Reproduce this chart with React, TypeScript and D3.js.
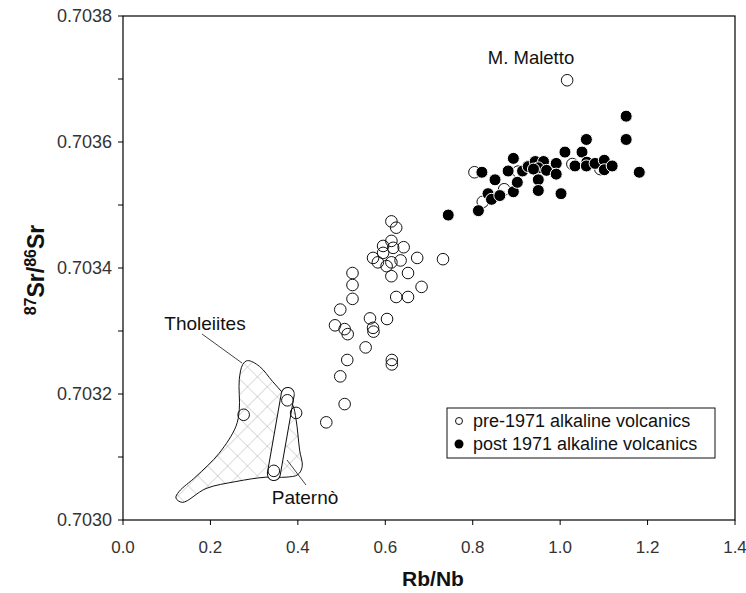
import React from "react";
import * as d3 from "d3";

// pre-1971 alkaline volcanics (open circles)
const preX = [0.614, 0.625, 0.614, 0.595, 0.618, 0.642, 0.595, 0.572, 0.583, 0.603, 0.614, 0.635, 0.673, 0.732, 0.614, 0.652, 0.683, 0.625, 0.652, 0.525, 0.525, 0.525, 0.497, 0.565, 0.604, 0.485, 0.507, 0.514, 0.572, 0.573, 0.555, 0.513, 0.615, 0.615, 0.497, 0.507, 0.465, 0.396, 0.376, 0.345, 0.276, 1.016, 0.823, 0.872, 0.804, 0.904, 0.927, 0.945, 1.028, 1.092];
const preY = [0.703474, 0.703464, 0.703443, 0.703435, 0.703432, 0.703433, 0.703424, 0.703416, 0.703409, 0.703403, 0.703409, 0.703412, 0.703416, 0.703414, 0.703387, 0.703392, 0.70337, 0.703354, 0.703354, 0.703392, 0.703373, 0.703351, 0.703334, 0.70332, 0.703319, 0.703309, 0.703303, 0.703295, 0.703305, 0.703299, 0.703274, 0.703254, 0.703254, 0.703247, 0.703228, 0.703184, 0.703155, 0.70317, 0.70319, 0.703078, 0.703167, 0.703698, 0.703505, 0.703525, 0.703552, 0.703553, 0.703561, 0.703561, 0.703565, 0.703557];

// post 1971 alkaline volcanics (filled circles)
const postX = [0.744, 0.813, 0.835, 0.843, 0.862, 0.893, 0.902, 0.851, 0.821, 0.893, 0.881, 0.914, 0.927, 0.943, 0.962, 0.95, 0.939, 0.969, 0.991, 0.991, 0.95, 0.95, 1.002, 1.011, 1.05, 1.06, 1.034, 1.061, 1.06, 1.08, 1.101, 1.101, 1.119, 1.151, 1.151, 1.181];
const postY = [0.703484, 0.703491, 0.703518, 0.703509, 0.703515, 0.703521, 0.703536, 0.70354, 0.703552, 0.703574, 0.703554, 0.703554, 0.703561, 0.703569, 0.703569, 0.703559, 0.703557, 0.703555, 0.703566, 0.703549, 0.70354, 0.703523, 0.703518, 0.703584, 0.703584, 0.703604, 0.703562, 0.703568, 0.703562, 0.703566, 0.703571, 0.703556, 0.703562, 0.703641, 0.703604, 0.703552];

// Tholeiites field outline
const tholX = [0.285, 0.312, 0.342, 0.365, 0.388, 0.396, 0.404, 0.41, 0.4, 0.373, 0.327, 0.258, 0.19, 0.136, 0.121, 0.128, 0.167, 0.22, 0.258, 0.266, 0.266, 0.274];
const tholY = [0.703253, 0.703244, 0.70322, 0.703202, 0.703183, 0.703159, 0.703111, 0.703085, 0.703072, 0.703068, 0.703068, 0.703061, 0.70305, 0.703028, 0.703035, 0.703045, 0.703069, 0.703106, 0.703148, 0.703175, 0.703223, 0.703247];

// Paternò field (capsule) end points
const paternoX = [0.377, 0.345];
const paternoY = [0.7032, 0.703073];

const xTicks = [0, 0.2, 0.4, 0.6, 0.8, 1.0, 1.2, 1.4];
const yTicks = [0.703, 0.7032, 0.7034, 0.7036, 0.7038];
const yMinor = [0.7031, 0.7033, 0.7035, 0.7037];

const W = 746, H = 593;
const L = 123, R = 735, T = 16, B = 520;
const FONT = "'Liberation Sans', Arial, sans-serif";

export default function App() {
  const x = d3.scaleLinear().domain([0, 1.4]).range([L, R]);
  const y = d3.scaleLinear().domain([0.703, 0.7038]).range([B, T]);

  const thol = d3
    .line<number>()
    .x((_, i) => x(tholX[i]))
    .y((_, i) => y(tholY[i]))
    .curve(d3.curveCatmullRomClosed.alpha(0.5))(tholX);

  const px0 = x(paternoX[0]), py0 = y(paternoY[0]);
  const px1 = x(paternoX[1]), py1 = y(paternoY[1]);
  const dx = px1 - px0, dy = py1 - py0;
  const len = Math.sqrt(dx * dx + dy * dy);
  const ang = (Math.atan2(dy, dx) * 180) / Math.PI;
  const cw = 13;

  return (
    <svg width={W} height={H} style={{ position: "absolute", left: 0, top: 0, background: "#fff" }} fontFamily={FONT}>
      <defs>
        <pattern id="hatch" patternUnits="userSpaceOnUse" width="14" height="14" patternTransform="rotate(45)">
          <line x1="0" y1="0" x2="0" y2="14" stroke="#999" strokeWidth="0.7" />
          <line x1="0" y1="0" x2="14" y2="0" stroke="#999" strokeWidth="0.7" />
        </pattern>
      </defs>
      <rect x={0} y={0} width={W} height={H} fill="#fff" />

      {/* frame */}
      <rect x={L} y={T} width={R - L} height={B - T} fill="none" stroke="#000" strokeWidth={1.2} />

      {/* y ticks */}
      {yTicks.map((t) => (
        <g key={"y" + t}>
          <line x1={L - 5} x2={L} y1={y(t)} y2={y(t)} stroke="#000" strokeWidth={1} />
          <text x={L - 11} y={y(t)} dy="0.35em" textAnchor="end" fontSize={18} fill="#333">
            {t.toFixed(4)}
          </text>
        </g>
      ))}
      {yMinor.map((t) => (
        <line key={"ym" + t} x1={L - 5} x2={L} y1={y(t)} y2={y(t)} stroke="#000" strokeWidth={1} />
      ))}
      {/* x ticks */}
      {xTicks.map((t) => (
        <g key={"x" + t}>
          <line x1={x(t)} x2={x(t)} y1={B} y2={B + 5} stroke="#000" strokeWidth={1} />
          <text x={x(t)} y={B + 33} textAnchor="middle" fontSize={17} fill="#333">
            {t.toFixed(1)}
          </text>
        </g>
      ))}

      {/* axis titles */}
      <text x={433} y={586} textAnchor="middle" fontSize={21} fontWeight="bold" fill="#111">
        Rb/Nb
      </text>
      <text transform={`translate(44,270) rotate(-90)`} textAnchor="middle" fontSize={23} fontWeight="bold" fill="#111">
        <tspan fontSize={16} dy="-8">87</tspan>
        <tspan dy="8">Sr/</tspan>
        <tspan fontSize={16} dy="-8">86</tspan>
        <tspan dy="8">Sr</tspan>
      </text>

      {/* Tholeiites field */}
      <path d={thol || ""} fill="url(#hatch)" stroke="none" />
      <path d={thol || ""} fill="none" stroke="#111" strokeWidth={1} />

      {/* Paternò capsule */}
      <g transform={`translate(${px0},${py0}) rotate(${ang})`}>
        <rect x={-cw / 2} y={-cw / 2} width={len + cw} height={cw} rx={cw / 2} ry={cw / 2} fill="#fff" stroke="#111" strokeWidth={1} />
      </g>

      {/* leaders and labels */}
      <line x1={202} y1={334} x2={242} y2={363} stroke="#111" strokeWidth={0.8} />
      <text x={205} y={330} textAnchor="middle" fontSize={19} fill="#111">Tholeiites</text>
      <line x1={287} y1={460} x2={306} y2={485} stroke="#111" strokeWidth={0.8} />
      <text x={305} y={504} textAnchor="middle" fontSize={19} fill="#111">Paternò</text>
      <text x={531} y={64} textAnchor="middle" fontSize={18.5} fill="#111">M. Maletto</text>

      {/* pre-1971 */}
      {preX.map((v, i) => (
        <circle key={"p" + i} cx={x(v)} cy={y(preY[i])} r={5.8} fill="none" stroke="#111" strokeWidth={1} />
      ))}
      {/* post 1971 */}
      {postX.map((v, i) => (
        <circle key={"q" + i} cx={x(v)} cy={y(postY[i])} r={6} fill="#000" stroke="#fff" strokeWidth={1} />
      ))}

      {/* legend */}
      <rect x={447} y={408} width={268} height={50} fill="#fff" stroke="#111" strokeWidth={1} />
      <circle cx={459} cy={421} r={3.5} fill="none" stroke="#111" strokeWidth={1} />
      <text x={473} y={421} dy="0.35em" fontSize={18} fill="#111">pre-1971 alkaline volcanics</text>
      <circle cx={459} cy={444} r={4.5} fill="#000" />
      <text x={473} y={444} dy="0.35em" fontSize={18} fill="#111">post 1971 alkaline volcanics</text>
    </svg>
  );
}
